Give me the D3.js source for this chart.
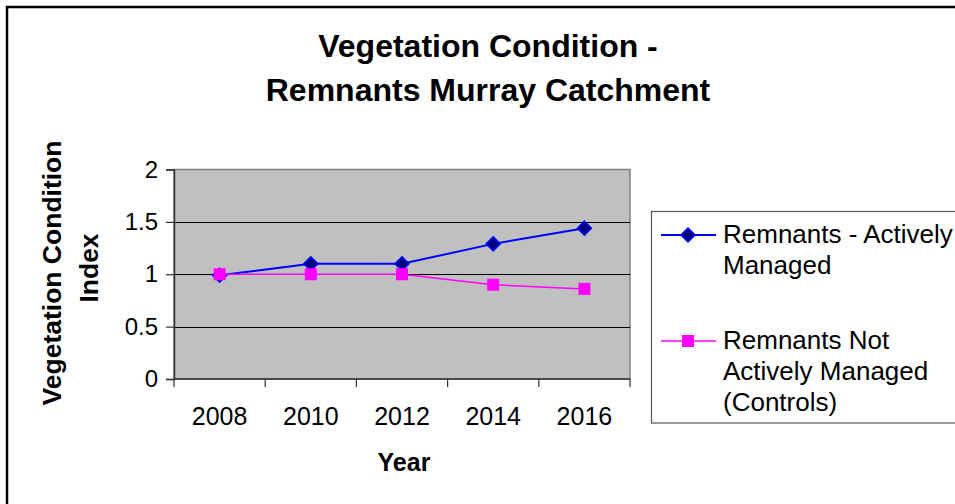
<!DOCTYPE html>
<html>
<head>
<meta charset="utf-8">
<script src="https://cdn.jsdelivr.net/npm/d3@7"></script>
<style>
  html, body { margin: 0; padding: 0; background: #fff; overflow: hidden; }
  svg { display: block; font-family: "Liberation Sans", Arial, sans-serif; }
</style>
</head>
<body>
<svg id="chart" width="955" height="504"></svg>
<script>
// Survey years and index values per remnant group
const years = ["2008", "2010", "2012", "2014", "2016"];
const activelyManaged = [0.99, 1.10, 1.10, 1.29, 1.44];
const notActivelyManaged = [1.00, 1.00, 1.00, 0.90, 0.86];
const yTicks = [0, 0.5, 1, 1.5, 2];
const yTickLabels = ["0", "0.5", "1", "1.5", "2"];
const titleLines = ["Vegetation Condition -", "Remnants Murray Catchment"];
const yTitleLines = ["Vegetation Condition", "Index"];
const legendActive = ["Remnants - Actively", "Managed"];
const legendControl = ["Remnants Not", "Actively Managed", "(Controls)"];

const svg = d3.select("#chart");

// chart frame
svg.append("rect")
  .attr("x", 7).attr("y", 7).attr("width", 1100).attr("height", 700)
  .attr("fill", "#fff").attr("stroke", "#000").attr("stroke-width", 2.5);

const plot = { left: 174, right: 630, top: 169.5, bottom: 379 };

const x = d3.scaleBand().domain(years).range([plot.left, plot.right]).padding(0);
const y = d3.scaleLinear().domain([0, 2]).range([plot.bottom, plot.top]);

// plot area
svg.append("rect")
  .attr("x", plot.left).attr("y", plot.top)
  .attr("width", plot.right - plot.left).attr("height", plot.bottom - plot.top)
  .attr("fill", "#c0c0c0").attr("stroke", "#808080").attr("stroke-width", 1.5);

// horizontal gridlines
svg.append("g")
  .selectAll("line")
  .data(yTicks.filter(d => d > 0 && d < 2))
  .join("line")
  .attr("x1", plot.left).attr("x2", plot.right)
  .attr("y1", d => Math.round(y(d)) + 0.5).attr("y2", d => Math.round(y(d)) + 0.5)
  .attr("stroke", "#000").attr("stroke-width", 1);

// y axis
const yAxis = d3.axisLeft(y)
  .tickValues(yTicks)
  .tickFormat((d, i) => yTickLabels[i])
  .tickSize(8)
  .tickPadding(8);
const gy = svg.append("g").attr("transform", `translate(${plot.left},0)`).call(yAxis);
gy.select(".domain").attr("stroke", "#333").attr("stroke-width", 1.5);
gy.selectAll(".tick line").attr("stroke", "#333").attr("stroke-width", 1.2);
gy.selectAll(".tick text")
  .attr("font-family", "Liberation Sans, Arial, sans-serif")
  .attr("font-size", 24).attr("fill", "#000");

// x axis: ticks sit on the category boundaries, labels in the middle
const boundaries = years.map(d => x(d)).concat([plot.right]);
const gx = svg.append("g");
gx.append("line")
  .attr("x1", plot.left).attr("x2", plot.right)
  .attr("y1", plot.bottom).attr("y2", plot.bottom)
  .attr("stroke", "#333").attr("stroke-width", 1.5);
gx.selectAll("line.tk")
  .data(boundaries)
  .join("line").attr("class", "tk")
  .attr("x1", d => d).attr("x2", d => d)
  .attr("y1", plot.bottom).attr("y2", plot.bottom + 8)
  .attr("stroke", "#333").attr("stroke-width", 1.2);
gx.selectAll("text")
  .data(years)
  .join("text")
  .attr("x", d => x(d) + x.bandwidth() / 2)
  .attr("y", 425)
  .attr("text-anchor", "middle")
  .attr("font-size", 25).attr("fill", "#000")
  .text(d => d);

// series
const cx = d => x(d) + x.bandwidth() / 2;
const line = d3.line().x(d => cx(d.year)).y(d => y(d.value));

const activeData = years.map((yr, i) => ({ year: yr, value: activelyManaged[i] }));
const controlData = years.map((yr, i) => ({ year: yr, value: notActivelyManaged[i] }));

const diamond = (g, px, py, r) =>
  g.append("path")
    .attr("d", `M${px},${py - r}L${px + r},${py}L${px},${py + r}L${px - r},${py}Z`)
    .attr("fill", "#000080").attr("stroke", "#0000ff").attr("stroke-width", 1.5);
const square = (g, px, py, s) =>
  g.append("rect")
    .attr("x", px - s / 2).attr("y", py - s / 2).attr("width", s).attr("height", s)
    .attr("fill", "#ff00ff");

const gA = svg.append("g");
gA.append("path").datum(activeData).attr("d", line)
  .attr("fill", "none").attr("stroke", "#0000ff").attr("stroke-width", 2);
activeData.forEach(d => diamond(gA, cx(d.year), y(d.value), 7));

const gC = svg.append("g");
gC.append("path").datum(controlData).attr("d", line)
  .attr("fill", "none").attr("stroke", "#ff00ff").attr("stroke-width", 1.5);
controlData.forEach(d => square(gC, cx(d.year), y(d.value), 12));

// titles
svg.append("text")
  .attr("x", 488).attr("text-anchor", "middle")
  .attr("font-size", 32).attr("font-weight", "bold").attr("fill", "#000")
  .selectAll("tspan").data(titleLines).join("tspan")
  .attr("x", 488).attr("y", (d, i) => 57 + i * 44)
  .text(d => d);

svg.append("text")
  .attr("x", 404).attr("y", 471)
  .attr("text-anchor", "middle")
  .attr("font-size", 25).attr("font-weight", "bold").attr("fill", "#000")
  .text("Year");

// y title, clipped at the top by the frame
svg.append("clipPath").attr("id", "ytclip")
  .append("rect").attr("x", 0).attr("y", 141).attr("width", 140).attr("height", 300);
const yt = svg.append("g").attr("clip-path", "url(#ytclip)");
yt.append("text")
  .attr("transform", "translate(0,271) rotate(-90)")
  .attr("text-anchor", "middle")
  .attr("font-size", 26.5).attr("font-weight", "bold").attr("fill", "#000")
  .selectAll("tspan").data(yTitleLines).join("tspan")
  .attr("x", (d, i) => i === 0 ? -2 : 3).attr("y", (d, i) => 61 + i * 37)
  .text(d => d);

// legend
const lg = svg.append("g");
lg.append("rect")
  .attr("x", 651.5).attr("y", 211.5).attr("width", 400).attr("height", 211.5)
  .attr("fill", "#fff").attr("stroke", "#555").attr("stroke-width", 1.2);

lg.append("line").attr("x1", 661).attr("x2", 716).attr("y1", 235).attr("y2", 235)
  .attr("stroke", "#0000ff").attr("stroke-width", 2);
diamond(lg, 688, 235, 7);
lg.append("text").attr("font-size", 26).attr("fill", "#000")
  .selectAll("tspan").data(legendActive).join("tspan")
  .attr("x", 723).attr("y", (d, i) => 243 + i * 31)
  .text(d => d);

lg.append("line").attr("x1", 661).attr("x2", 716).attr("y1", 341).attr("y2", 341)
  .attr("stroke", "#ff00ff").attr("stroke-width", 1.5);
square(lg, 688, 341, 12);
lg.append("text").attr("font-size", 26).attr("fill", "#000")
  .selectAll("tspan").data(legendControl).join("tspan")
  .attr("x", 723).attr("y", (d, i) => 349 + i * 31)
  .text(d => d);
</script>
</body>
</html>
